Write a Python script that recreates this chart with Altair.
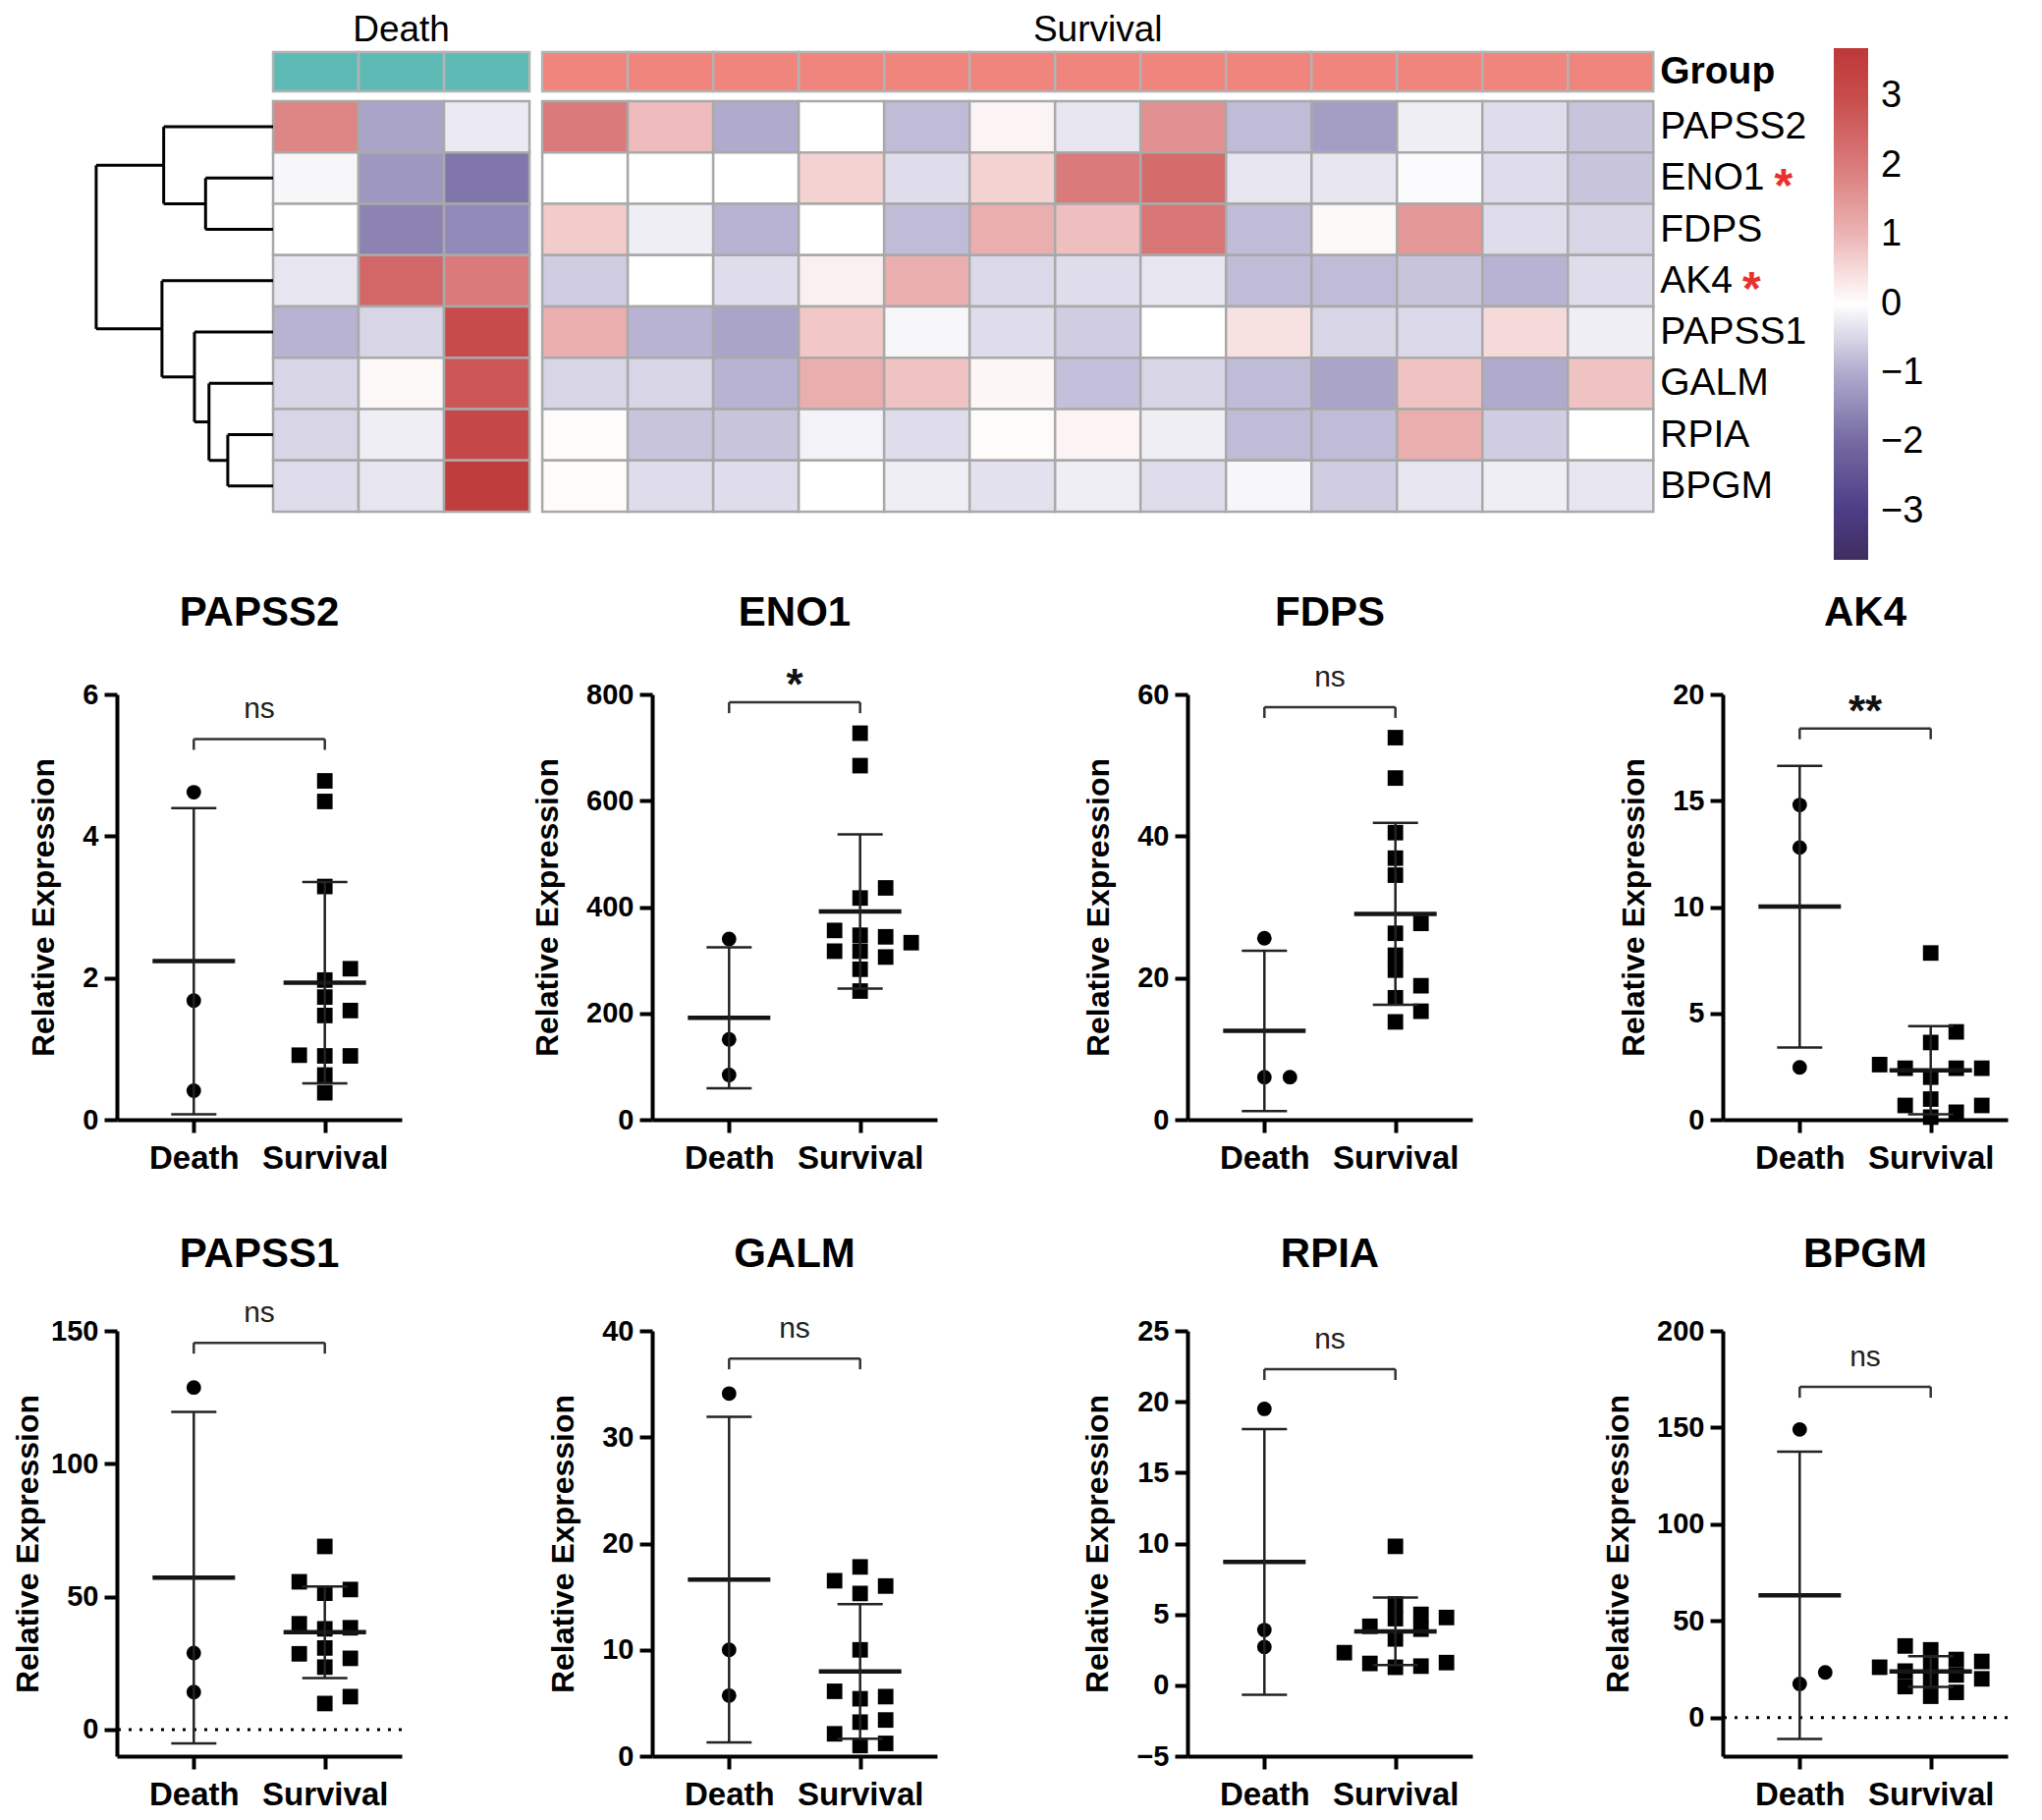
import altair as alt
import pandas as pd

FONT = "Liberation Sans"

# ---------------- heatmap (rows = genes; 3 Death + 13 Survival samples) ----------------
genes = ["PAPSS2", "ENO1", "FDPS", "AK4", "PAPSS1", "GALM", "RPIA", "BPGM"]
starred = ["ENO1", "AK4"]
sample_groups = ["Death"] * 3 + ["Survival"] * 13

hm_PAPSS2 = [1.8, -1.1, -0.25, 2.0, 0.9, -1.0, 0.0, -0.8, 0.15, -0.3, 1.6, -0.8, -1.2, -0.2, -0.4, -0.7]
hm_ENO1 = [-0.1, -1.3, -1.8, 0.0, 0.0, 0.0, 0.6, -0.4, 0.6, 2.0, 2.3, -0.3, -0.3, -0.05, -0.4, -0.7]
hm_FDPS = [0.0, -1.6, -1.5, 0.7, -0.2, -0.9, 0.0, -0.8, 1.1, 0.85, 2.1, -0.8, 0.1, 1.5, -0.4, -0.5]
hm_AK4 = [-0.3, 2.4, 2.0, -0.6, 0.0, -0.4, 0.2, 1.1, -0.45, -0.4, -0.3, -0.8, -0.8, -0.7, -0.9, -0.4]
hm_PAPSS1 = [-0.9, -0.5, 3.0, 1.1, -0.9, -1.1, 0.75, -0.1, -0.4, -0.6, 0.0, 0.4, -0.5, -0.45, 0.5, -0.2]
hm_GALM = [-0.5, 0.1, 2.75, -0.5, -0.5, -0.9, 1.1, 0.8, 0.12, -0.75, -0.5, -0.8, -1.1, 0.8, -1.0, 0.8]
hm_RPIA = [-0.5, -0.2, 3.15, 0.05, -0.7, -0.7, -0.15, -0.4, 0.05, 0.15, -0.2, -0.8, -0.8, 1.1, -0.6, 0.0]
hm_BPGM = [-0.4, -0.3, 3.55, 0.05, -0.4, -0.4, 0.0, -0.2, -0.35, -0.2, -0.4, -0.1, -0.6, -0.3, -0.2, -0.3]
heat_rows = [hm_PAPSS2, hm_ENO1, hm_FDPS, hm_AK4, hm_PAPSS1, hm_GALM, hm_RPIA, hm_BPGM]

# hierarchical clustering of the rows: (child a, child b, merge height); leaves 0..7, new nodes 8..
dendro_merges = [(1, 2, 0.79), (0, 8, 1.28), (6, 7, 0.53), (5, 10, 0.75),
                 (4, 11, 0.92), (3, 12, 1.30), (9, 13, 2.07)]

cb_domain = [-3.7, -3, -2, -1, 0, 1, 2, 3, 3.7]
cb_colors = ["#3E2E5F", "#4C3C86", "#7469A2", "#B0AACD", "#FFFFFF",
             "#ECB4B4", "#DA7A7A", "#C84B4B", "#BD3939"]
cb_ticks = [-3, -2, -1, 0, 1, 2, 3]
group_names = ["Death", "Survival"]
group_colors = ["#5DBAB5", "#F0857D"]

# ---------------- scatter panels ----------------
panel_genes = ["PAPSS2", "ENO1", "FDPS", "AK4", "PAPSS1", "GALM", "RPIA", "BPGM"]

PAPSS2_death = [4.62, 1.68, 0.41]
PAPSS2_surv = [4.78, 4.49, 3.29, 2.13, 1.97, 1.73, 1.54, 1.47, 0.91, 0.90, 0.90, 0.63, 0.38]
ENO1_death = [340, 151, 84]
ENO1_surv = [727, 666, 436, 417, 356, 347, 344, 333, 317, 317, 306, 283, 242]
FDPS_death = [25.6, 6.0, 6.0]
FDPS_surv = [53.9, 48.2, 40.5, 36.9, 34.5, 27.7, 26.3, 23.2, 21.1, 18.9, 17.2, 15.3, 13.8]
AK4_death = [14.8, 12.8, 2.46]
AK4_surv = [7.84, 4.13, 3.63, 2.59, 2.42, 2.42, 2.42, 2.0, 0.97, 0.67, 0.67, 0.35, 0.12]
PAPSS1_death = [128.7, 28.8, 14.1]
PAPSS1_surv = [68.9, 55.6, 52.7, 51.3, 39.8, 38.3, 37.9, 30.7, 28.5, 26.8, 23.5, 12.4, 9.8]
GALM_death = [34.1, 10.0, 5.7]
GALM_surv = [17.8, 16.5, 16.0, 15.3, 10.0, 6.1, 5.6, 5.4, 3.4, 3.2, 2.1, 1.2, 1.0]
RPIA_death = [19.5, 3.9, 2.7]
RPIA_surv = [9.8, 5.74, 5.0, 4.78, 4.7, 4.16, 3.96, 3.27, 2.3, 1.6, 1.54, 1.35, 1.27]
BPGM_death = [149, 17.4, 23.3]
BPGM_surv = [37, 35, 30, 29, 27, 26, 24, 22, 20, 19, 16, 13, 11]

death_vals = dict(PAPSS2=PAPSS2_death, ENO1=ENO1_death, FDPS=FDPS_death, AK4=AK4_death,
                  PAPSS1=PAPSS1_death, GALM=GALM_death, RPIA=RPIA_death, BPGM=BPGM_death)
surv_vals = dict(PAPSS2=PAPSS2_surv, ENO1=ENO1_surv, FDPS=FDPS_surv, AK4=AK4_surv,
                 PAPSS1=PAPSS1_surv, GALM=GALM_surv, RPIA=RPIA_surv, BPGM=BPGM_surv)

y_domains = dict(PAPSS2=(0, 6), ENO1=(0, 800), FDPS=(0, 60), AK4=(0, 20),
                 PAPSS1=(-10, 150), GALM=(0, 40), RPIA=(-5, 25), BPGM=(-20, 200))
y_ticks = dict(PAPSS2=[0, 2, 4, 6], ENO1=[0, 200, 400, 600, 800], FDPS=[0, 20, 40, 60],
               AK4=[0, 5, 10, 15, 20], PAPSS1=[0, 50, 100, 150], GALM=[0, 10, 20, 30, 40],
               RPIA=[-5, 0, 5, 10, 15, 20, 25], BPGM=[0, 50, 100, 150, 200])
bracket_y = dict(PAPSS2=5.37, ENO1=785, FDPS=58.2, AK4=18.4, PAPSS1=145.5, GALM=37.4, RPIA=22.3, BPGM=171)
sig_label = dict(PAPSS2="ns", ENO1="*", FDPS="ns", AK4="**", PAPSS1="ns", GALM="ns", RPIA="ns", BPGM="ns")
zero_line_genes = ["PAPSS1", "BPGM"]

# ======================= heatmap chart =======================
PAD_LEFT = 4
ORIGIN_X = 113 + PAD_LEFT  # page x where every row's first plot area starts
COL_PX, ROW_PX, GAP = 87.0, 52.25, 0.15
HX0 = -(276 - ORIGIN_X) / COL_PX
HX1 = 16.25
HY0, HY1 = -1.818, 8.0
HW = int(round((HX1 - HX0) * COL_PX))
HH = int(round((HY1 - HY0) * ROW_PX))
GB_TOP, GB_BOT = -0.957, -0.191

col_left = [i + (GAP if g == "Survival" else 0.0) for i, g in enumerate(sample_groups)]

cell_df = pd.DataFrame([
    dict(gene=gn, x1=col_left[c], x2=col_left[c] + 1, y1=r, y2=r + 1, z=v)
    for r, (gn, vals) in enumerate(zip(genes, heat_rows)) for c, v in enumerate(vals)
])
grp_df = pd.DataFrame([dict(grp=g, x1=col_left[c], x2=col_left[c] + 1, y1=GB_TOP, y2=GB_BOT)
                       for c, g in enumerate(sample_groups)])

node_y = {i: i + 0.5 for i in range(len(genes))}
node_h = {i: 0.0 for i in range(len(genes))}
segs = []
for k, (a, b, h) in enumerate(dendro_merges):
    nid = len(genes) + k
    segs.append(dict(x=-h, x2=-h, y=node_y[a], y2=node_y[b]))
    segs.append(dict(x=-node_h[a], x2=-h, y=node_y[a], y2=node_y[a]))
    segs.append(dict(x=-node_h[b], x2=-h, y=node_y[b], y2=node_y[b]))
    node_y[nid] = (node_y[a] + node_y[b]) / 2
    node_h[nid] = h
seg_df = pd.DataFrame(segs)

LAB_FS = 39
ARIAL_W = {"E": 0.667, "N": 0.722, "O": 0.778, "1": 0.556, "A": 0.667, "K": 0.667,
           "4": 0.556, "P": 0.667, "S": 0.667, "2": 0.556, "F": 0.611, "D": 0.722,
           "G": 0.778, "L": 0.556, "M": 0.833, "R": 0.722, "I": 0.278, "B": 0.667}
lab_x = col_left[-1] + 1 + 0.08
lab_df = pd.DataFrame([dict(x=lab_x, y=r + 0.5, label=gn) for r, gn in enumerate(genes)])
star_df = pd.DataFrame([
    dict(x=lab_x + (sum(ARIAL_W.get(ch, 0.6) for ch in gn) * LAB_FS + 10) / COL_PX,
         y=genes.index(gn) + 0.5, t="*") for gn in starred
])
grp_lab_df = pd.DataFrame([dict(x=lab_x, y=(GB_TOP + GB_BOT) / 2, t="Group")])
hdr_df = pd.DataFrame([
    dict(x=(min(col_left[c] for c in range(len(sample_groups)) if sample_groups[c] == g)
            + max(col_left[c] for c in range(len(sample_groups)) if sample_groups[c] == g) + 1) / 2,
         y=HY0 + 23 / ROW_PX, t=g)
    for g in group_names
])

hxs = alt.Scale(domain=[HX0, HX1], nice=False, zero=False)
hys = alt.Scale(domain=[HY0, HY1], nice=False, zero=False, reverse=True)

cells = alt.Chart(cell_df).mark_rect(stroke="#A9A9A9", strokeWidth=2.5).encode(
    x=alt.X("x1:Q", scale=hxs, axis=None), x2="x2:Q",
    y=alt.Y("y1:Q", scale=hys, axis=None), y2="y2:Q",
    color=alt.Color("z:Q",
                    scale=alt.Scale(domain=cb_domain, range=cb_colors, interpolate="rgb"),
                    legend=alt.Legend(orient="none", legendX=1865 - ORIGIN_X, legendY=41,
                                      direction="vertical", title=None, gradientLength=521,
                                      gradientThickness=35, gradientStrokeWidth=0, values=cb_ticks,
                                      format="d", labelFont=FONT, labelFontSize=38, labelColor="black",
                                      labelOffset=13, padding=0)),
)
gbar = alt.Chart(grp_df).mark_rect(stroke="#B3B3B3", strokeWidth=2.5).encode(
    x=alt.X("x1:Q", scale=hxs, axis=None), x2="x2:Q",
    y=alt.Y("y1:Q", scale=hys, axis=None), y2="y2:Q",
    fill=alt.Fill("grp:N", scale=alt.Scale(domain=group_names, range=group_colors), legend=None),
)
dendro = alt.Chart(seg_df).mark_rule(color="black", strokeWidth=3).encode(
    x=alt.X("x:Q", scale=hxs, axis=None), x2="x2:Q",
    y=alt.Y("y:Q", scale=hys, axis=None), y2="y2:Q",
)
labels = alt.Chart(lab_df).mark_text(align="left", baseline="middle", font=FONT,
                                     fontSize=LAB_FS, color="black").encode(
    x=alt.X("x:Q", scale=hxs, axis=None), y=alt.Y("y:Q", scale=hys, axis=None), text="label:N")
stars = alt.Chart(star_df).mark_text(align="left", baseline="middle", font=FONT, fontSize=48,
                                     fontWeight="bold", color="#E8302C", dy=10).encode(
    x=alt.X("x:Q", scale=hxs, axis=None), y=alt.Y("y:Q", scale=hys, axis=None), text="t:N")
grp_lab = alt.Chart(grp_lab_df).mark_text(align="left", baseline="middle", font=FONT,
                                          fontSize=LAB_FS, fontWeight="bold", color="black").encode(
    x=alt.X("x:Q", scale=hxs, axis=None), y=alt.Y("y:Q", scale=hys, axis=None), text="t:N")
hdr = alt.Chart(hdr_df).mark_text(align="center", baseline="middle", font=FONT,
                                  fontSize=37, color="black").encode(
    x=alt.X("x:Q", scale=hxs, axis=None), y=alt.Y("y:Q", scale=hys, axis=None), text="t:N")

heat = alt.layer(cells, gbar, dendro, labels, stars, grp_lab, hdr).properties(width=HW, height=HH)

# ======================= scatter panels =======================
PW, PH = 290, 433
XD = (-0.587, 1.587)
XPPU = PW / (XD[1] - XD[0])
SLOT = 26 / XPPU
MEAN_HALF = 42 / XPPU
CAP_HALF = 23 / XPPU


def swarm(vals, ppu, thr=15.0):
    order = sorted(range(len(vals)), key=lambda i: vals[i])
    placed = []
    slots = [0] * len(vals)
    for i in order:
        py = vals[i] * ppu
        chosen = 0
        for s in [0, 1, -1, 2, -2, 3, -3, 4, -4]:
            if all(abs(py - q) >= thr for q, t in placed if t == s):
                chosen = s
                break
        placed.append((py, chosen))
        slots[i] = chosen
    return slots


def panel(g, title_off, title_pad=22):
    y0, y1 = y_domains[g]
    yppu = PH / (y1 - y0)
    xscale = alt.Scale(domain=list(XD), nice=False, zero=False)
    yscale = alt.Scale(domain=[y0, y1], nice=False, zero=False)
    xaxis = alt.Axis(values=[0, 1], labelExpr="datum.value == 0 ? 'Death' : 'Survival'", title=None,
                     grid=False, domainWidth=4, domainColor="black", tickColor="black", tickWidth=4,
                     tickSize=13, labelFont=FONT, labelFontSize=33, labelFontWeight="bold",
                     labelColor="black", labelPadding=10, labelFlush=False, labelOverlap=False)
    yaxis = alt.Axis(values=y_ticks[g], title="Relative Expression", titleFont=FONT, titleFontSize=32,
                     titleFontWeight="bold", titleColor="black", titlePadding=title_pad, grid=False,
                     domainWidth=4, domainColor="black", tickColor="black", tickWidth=4, tickSize=13,
                     labelFont=FONT, labelFontSize=29, labelFontWeight="bold", labelColor="black",
                     labelPadding=6, labelFlush=False, labelOverlap=False, format="d")

    def X(f):
        return alt.X(f + ":Q", scale=xscale, axis=xaxis)

    def Y(f):
        return alt.Y(f + ":Q", scale=yscale, axis=yaxis)

    rows = []
    for gi, (grp, vals) in enumerate([("Death", death_vals[g]), ("Survival", surv_vals[g])]):
        for v, s in zip(vals, swarm(vals, yppu)):
            rows.append(dict(grp=grp, gx=gi, x=gi + s * SLOT, value=v))
    df = pd.DataFrame(rows)
    st = df.groupby(["grp", "gx"], as_index=False)["value"].agg(["mean", "std"])
    st = st.reset_index() if "grp" not in st.columns else st
    st["lo"] = st["mean"] - st["std"]
    st["hi"] = st["mean"] + st["std"]
    st["m1"] = st["gx"] - MEAN_HALF
    st["m2"] = st["gx"] + MEAN_HALF
    st["c1"] = st["gx"] - CAP_HALF
    st["c2"] = st["gx"] + CAP_HALF

    b = bracket_y[g]
    br_h = pd.DataFrame([dict(x1=0, x2=1, y=b)])
    br_v = pd.DataFrame([dict(x=0, y=b, y2=b - 11 / yppu), dict(x=1, y=b, y2=b - 11 / yppu)])
    lab = sig_label[g]
    lab_df = pd.DataFrame([dict(x=0.5, y=b, t=lab)])
    title_df = pd.DataFrame([dict(t=g)])

    layers = []
    if g in zero_line_genes:
        layers.append(alt.Chart(pd.DataFrame({"z": [0]})).mark_rule(
            color="black", strokeWidth=3, strokeDash=[3, 8]).encode(y=Y("z")))
    layers += [
        alt.Chart(df[df.grp == "Death"]).mark_point(shape="circle", filled=True, size=220,
                                                   color="black", opacity=1, strokeWidth=0).encode(
            x=X("x"), y=Y("value")),
        alt.Chart(df[df.grp == "Survival"]).mark_point(shape="square", filled=True, size=250,
                                                      color="black", opacity=1, strokeWidth=0).encode(
            x=X("x"), y=Y("value")),
        alt.Chart(st).mark_rule(color="#151515", strokeWidth=4.5).encode(x=X("m1"), x2="m2", y=Y("mean")),
        alt.Chart(st).mark_rule(color="#222222", strokeWidth=2.5).encode(x=X("gx"), y=Y("lo"), y2="hi"),
        alt.Chart(st).mark_rule(color="#222222", strokeWidth=2.5).encode(x=X("c1"), x2="c2", y=Y("hi")),
        alt.Chart(st).mark_rule(color="#222222", strokeWidth=2.5).encode(x=X("c1"), x2="c2", y=Y("lo")),
        alt.Chart(br_h).mark_rule(color="#333333", strokeWidth=2.5).encode(x=X("x1"), x2="x2", y=Y("y")),
        alt.Chart(br_v).mark_rule(color="#333333", strokeWidth=2.5).encode(x=X("x"), y=Y("y"), y2="y2"),
    ]
    if lab == "ns":
        layers.append(alt.Chart(lab_df).mark_text(font=FONT, fontSize=30, color="#222222",
                                                  baseline="alphabetic", align="center", dy=-21).encode(
            x=X("x"), y=Y("y"), text="t:N"))
    else:
        layers.append(alt.Chart(lab_df).mark_text(font=FONT, fontSize=44, fontWeight="bold",
                                                  color="#111111", baseline="alphabetic",
                                                  align="center", dy=-3).encode(
            x=X("x"), y=Y("y"), text="t:N"))
    # panel title, centred over the plot area
    layers.append(alt.Chart(title_df).mark_text(font=FONT, fontSize=42, fontWeight="bold", color="black",
                                                align="center", baseline="middle").encode(
        x=alt.value(PW / 2), y=alt.value(-title_off), text="t:N"))
    return alt.layer(*layers).properties(width=PW, height=PH)


panels = [panel(g, 83) for g in panel_genes[:4]]
panels += [panel(panel_genes[4], 78, title_pad=6)] + [panel(g, 78) for g in panel_genes[5:]]
row1 = alt.hconcat(*panels[:4], spacing=255, bounds="flush").resolve_scale(x="independent", y="independent")
row2 = alt.hconcat(*panels[4:], spacing=255, bounds="flush").resolve_scale(x="independent", y="independent")
rows = alt.vconcat(row1, row2, spacing=60).resolve_scale(x="independent", y="independent")

chart = alt.vconcat(heat, rows, spacing=33).resolve_scale(
    x="independent", y="independent", color="independent", fill="independent"
).properties(
    padding={"left": PAD_LEFT, "top": 0, "right": 0, "bottom": 0}, background="white"
).configure(font=FONT).configure_view(strokeWidth=0)

chart.save("out.html", embed_options={"renderer": "svg", "actions": False})
